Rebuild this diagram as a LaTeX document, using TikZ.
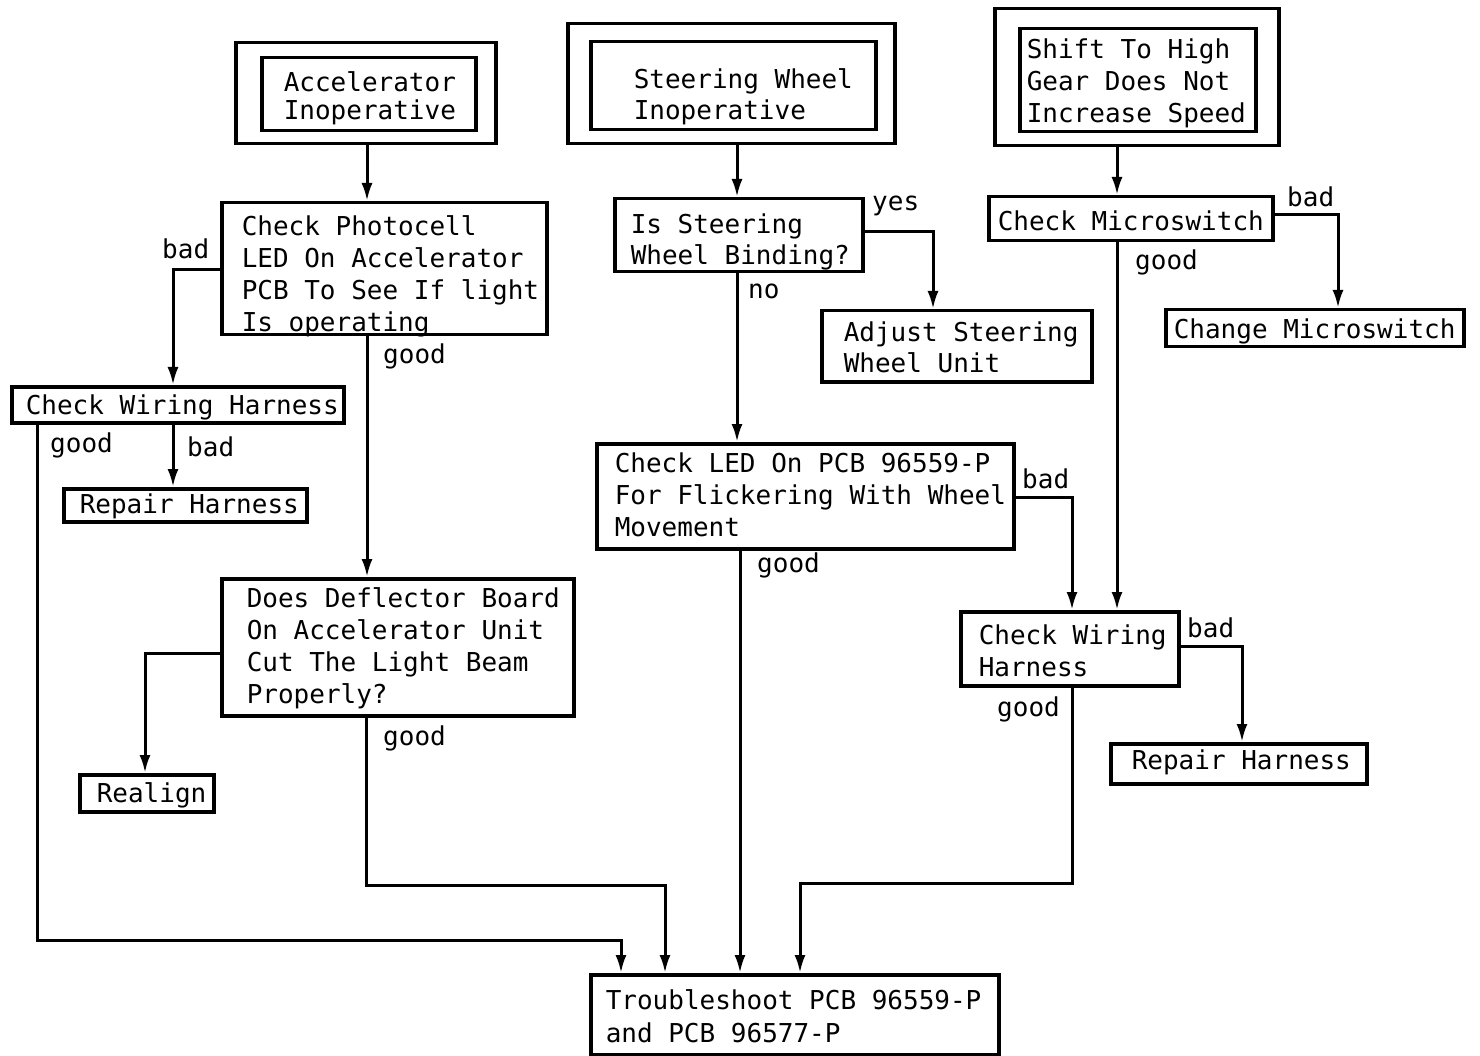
\documentclass[tikz,border=0pt]{standalone}
\usepackage{fontspec}
\setmonofont{DejaVu Sans Mono}
\usetikzlibrary{arrows.meta}
\newcommand{\ws}{\kern15.65pt\relax}
\begin{document}
\begin{tikzpicture}[x=1pt,y=-1pt,
  tt/.style={font=\ttfamily\fontsize{26}{32}\selectfont},
  bx/.style={tt, draw, line width=3.5pt, inner sep=0pt, anchor=north west, align=left},
  frame/.style={draw, line width=3.5pt, inner sep=0pt, anchor=north west},
  arr/.style={line width=3pt, -{Latex[length=18pt,width=11pt]}},
  lbl/.style={tt, inner sep=0pt, anchor=base west}]
\useasboundingbox (0,0) rectangle (1480,1056);
\fill[white] (0,0) rectangle (1480,1056);

% top row
\node[frame, minimum width=260pt, minimum height=101pt] (accO) at (234,41) {};
\node[bx, font=\ttfamily\fontsize{26}{28}\selectfont, minimum width=214pt, text width=170pt, text height=34pt, text depth=39pt] (acc) at (260,56) {Accelerator\\Inoperative};
\node[frame, minimum width=327pt, minimum height=120pt] (steerO) at (566,22) {};
\node[bx, font=\ttfamily\fontsize{26}{31}\selectfont, minimum width=285pt, text width=199pt, text height=47pt, text depth=41pt] (steer) at (589,40) {Steering\ws Wheel\\Inoperative};
\node[frame, minimum width=284pt, minimum height=137pt] (shiftO) at (993,7) {};
\node[bx, minimum width=236pt, text width=222pt, text height=30pt, text depth=73pt] (shift) at (1018,27) {Shift\ws To\ws High\\Gear\ws Does\ws Not\\Increase\ws Speed};

% second row
\node[bx, minimum width=325pt, text width=285pt, text height=33pt, text depth=99pt] (photo) at (220,201) {Check\ws Photocell\\LED\ws On\ws Accelerator\\PCB\ws To\ws See\ws If\ws light\\Is\ws operating};
\node[bx, font=\ttfamily\fontsize{26}{31}\selectfont, minimum width=248pt, text width=216pt, text height=35pt, text depth=38pt] (bind) at (613,197) {Is\ws Steering\\Wheel\ws Binding?};
\node[bx, minimum width=284pt, text width=266pt, text height=34pt, text depth=10pt] (micro) at (987,195) {Check\ws Microswitch};
\node[bx, minimum width=298pt, text width=282pt, text height=29pt, text depth=8pt] (change) at (1164,308) {Change\ws Microswitch};
\node[bx, font=\ttfamily\fontsize{26}{31}\selectfont, minimum width=270pt, text width=226pt, text height=31pt, text depth=40pt] (adjust) at (820,309) {Adjust\ws Steering\\Wheel\ws Unit};

% left column
\node[bx, minimum width=332pt, text width=304pt, text height=28pt, text depth=8pt] (cwl) at (10,385) {Check\ws Wiring\ws Harness};
\node[bx, minimum width=243pt, text width=211pt, text height=25pt, text depth=8pt] (repl) at (62,487) {Repair\ws Harness};
\node[bx, minimum width=352pt, text width=302pt, text height=29pt, text depth=108pt] (defl) at (220,577) {Does\ws Deflector\ws Board\\On\ws Accelerator\ws Unit\\Cut\ws The\ws Light\ws Beam\\Properly?};
\node[bx, minimum width=134pt, text width=100pt, text height=28pt, text depth=9pt] (realign) at (78,773) {Realign};

% middle / right
\node[bx, minimum width=417pt, text width=381pt, text height=29pt, text depth=76pt] (led) at (595,442) {Check\ws LED\ws On\ws PCB\ws 96559-P\\For\ws Flickering\ws With\ws Wheel\\Movement};
\node[bx, minimum width=218pt, text width=182pt, text height=33pt, text depth=41pt] (cwr) at (959,610) {Check\ws Wiring\\Harness};
\node[bx, minimum width=256pt, text width=214pt, text height=26pt, text depth=14pt] (repr) at (1109,742) {Repair\ws Harness};
\node[bx, font=\ttfamily\fontsize{26}{33}\selectfont, minimum width=408pt, text width=378pt, text height=35pt, text depth=45pt] (trouble) at (589,973) {Troubleshoot\ws PCB\ws 96559-P\\and\ws PCB\ws 96577-P};

% connectors
\draw[arr] (accO.south -| 367,0) -- (photo.north -| 367,0);
\draw[arr] (photo.west |- 0,270) -| (cwl.north -| 173,0);
\draw[arr] (photo.south -| 367,0) -- (defl.north -| 367,0);
\draw[arr] (cwl.south -| 173,0) -- (repl.north -| 173,0);
\draw[arr] (cwl.south -| 37,0) -- (37,940) -| (trouble.north -| 621,0);
\draw[arr] (defl.west |- 0,653) -| (realign.north -| 145,0);
\draw[arr] (defl.south -| 366,0) -- (366,885) -| (trouble.north -| 665,0);
\draw[arr] (steerO.south -| 737,0) -- (bind.north -| 737,0);
\draw[arr] (bind.east |- 0,232) -| (adjust.north -| 933,0);
\draw[arr] (bind.south -| 737,0) -- (led.north -| 737,0);
\draw[arr] (led.south -| 740,0) -- (trouble.north -| 740,0);
\draw[arr] (shiftO.south -| 1117,0) -- (micro.north -| 1117,0);
\draw[arr] (micro.east |- 0,215) -| (change.north -| 1338,0);
\draw[arr] (micro.south -| 1117,0) -- (cwr.north -| 1117,0);
\draw[arr] (led.east |- 0,497) -| (cwr.north -| 1072,0);
\draw[arr] (cwr.east |- 0,646) -| (repr.north -| 1242,0);
\draw[arr] (cwr.south -| 1072,0) -- (1072,883) -| (trouble.north -| 800,0);

% labels
\node[lbl] (l1) at (162,259) {bad};
\node[lbl] (l2) at (383,363) {good};
\node[lbl] (l3) at (50,452) {good};
\node[lbl] (l4) at (187,456) {bad};
\node[lbl] (l5) at (383,745) {good};
\node[lbl] (l6) at (872,211) {yes};
\node[lbl] (l7) at (748,299) {no};
\node[lbl] (l8) at (1287,207) {bad};
\node[lbl] (l9) at (1135,270) {good};
\node[lbl] (l10) at (1022,488) {bad};
\node[lbl] (l11) at (757,572) {good};
\node[lbl] (l12) at (1187,637) {bad};
\node[lbl] (l13) at (997,716) {good};
\end{tikzpicture}
\end{document}
